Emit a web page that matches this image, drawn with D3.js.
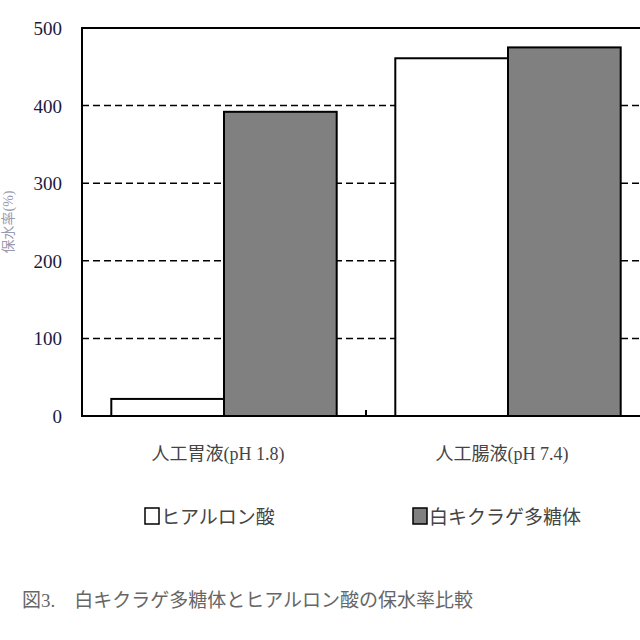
<!DOCTYPE html><html><head><meta charset="utf-8"><script src="https://cdn.jsdelivr.net/npm/d3@7"></script>
<style>body{margin:0;background:#fff}</style></head><body><svg id="c" width="640" height="640"></svg>
<script>
const categories=["人工胃液(pH 1.8)","人工腸液(pH 7.4)"];
const seriesNames=["ヒアルロン酸","白キクラゲ多糖体"];
const hyaluronic=[22,461];
const tremella=[392,475];
const yTicks=[0,100,200,300,400,500];
const colors=["#ffffff","#808080"];
const svg=d3.select("#c");
const L=82,T=28,B=416,R=650;
const font="'Liberation Serif','Noto Sans CJK JP',serif";
const x=d3.scaleBand().domain(categories).range([L,R]).paddingInner(0).paddingOuter(0);
const xi=d3.scaleBand().domain(seriesNames).range([0,x.bandwidth()]).paddingOuter(0.26).paddingInner(0);
const y=d3.scaleLinear().domain([0,500]).range([B,T]);
svg.append("g").selectAll("line").data(yTicks.filter(d=>d>0&&d<500)).join("line")
 .attr("x1",L).attr("x2",R).attr("y1",d=>y(d)).attr("y2",d=>y(d))
 .attr("stroke","#000").attr("stroke-width",1.5).attr("stroke-dasharray","7,4");
const data=[hyaluronic,tremella];
categories.forEach((c,i)=>{
 seriesNames.forEach((s,j)=>{
  svg.append("rect").attr("x",x(c)+xi(s)).attr("width",xi.bandwidth())
   .attr("y",y(data[j][i])).attr("height",B-y(data[j][i]))
   .attr("fill",colors[j]).attr("stroke","#000").attr("stroke-width",2);
 });
});
svg.append("rect").attr("x",L).attr("y",T).attr("width",R-L).attr("height",B-T).attr("fill","none").attr("stroke","#000").attr("stroke-width",2);
svg.append("g").selectAll("text").data(yTicks).join("text").attr("x",62).attr("y",d=>y(d)+7)
 .attr("text-anchor","end").attr("font-family",font).attr("font-size",19).attr("fill","#1a1a40").text(d=>d);
svg.append("line").attr("x1",x(categories[1])).attr("x2",x(categories[1])).attr("y1",B).attr("y2",B-6).attr("stroke","#000").attr("stroke-width",2);
svg.append("g").selectAll("text").data(categories).join("text").attr("x",d=>x(d)+x.bandwidth()/2-6).attr("y",460)
 .attr("text-anchor","middle").attr("font-family",font).attr("font-size",18).attr("fill","#444").text(d=>d);
svg.append("text").attr("transform","translate(13,222) rotate(-90)").attr("text-anchor","middle")
 .attr("font-family",font).attr("font-size",14).attr("fill","#9a9ab0").text("保水率(%)");
const lg=[[145,"ヒアルロン酸"],[413,"白キクラゲ多糖体"]];
lg.forEach(([lx,t],j)=>{
 svg.append("rect").attr("x",lx).attr("y",508).attr("width",14).attr("height",16).attr("fill",colors[j]).attr("stroke","#000").attr("stroke-width",1.5);
 svg.append("text").attr("x",lx+16).attr("y",524).attr("font-family",font).attr("font-size",19).attr("fill","#444").text(seriesNames[j]);
});
svg.append("text").attr("x",22).attr("y",607).attr("font-family",font).attr("font-size",19).attr("fill","#666")
 .text("図3.　白キクラゲ多糖体とヒアルロン酸の保水率比較");
</script></body></html>
